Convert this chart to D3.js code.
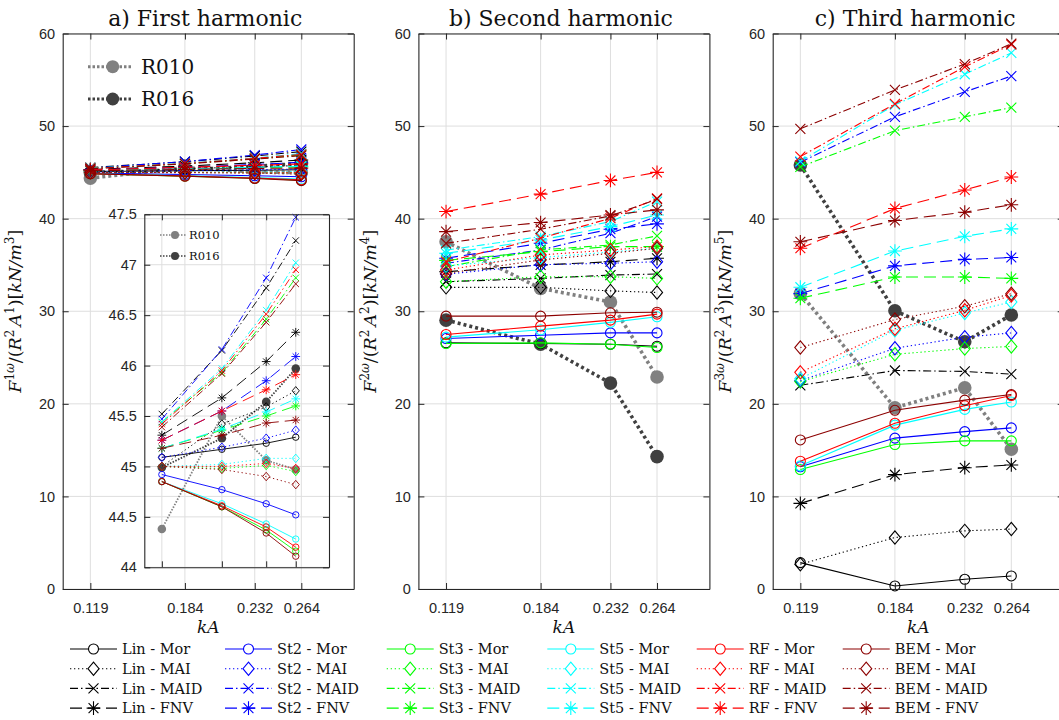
<!DOCTYPE html>
<html><head><meta charset="utf-8">
<script src="https://cdn.jsdelivr.net/npm/d3@7"></script>
<style>body{margin:0;background:#fff}svg{display:block}</style>
</head><body>
<svg id="c" width="1059" height="720"></svg>
<script>
// ---------- data ----------
const kA = [0.119, 0.184, 0.232, 0.264];
const kALabels = ["0.119", "0.184", "0.232", "0.264"];
const methods = ["Lin", "St2", "St3", "St5", "RF", "BEM"];
const models = ["Mor", "MAI", "MAID", "FNV"];
const methodColors = ["#000000", "#0000ff", "#00ff00", "#00ffff", "#ff0000", "#8c0000"];
const yTicksMain = [0, 10, 20, 30, 40, 50, 60];
const yTicksInset = [44, 44.5, 45, 45.5, 46, 46.5, 47, 47.5];
const refNames = ["R010", "R016"];
const refColors = ["#808080", "#404040"];
const titles = ["a) First harmonic", "b) Second harmonic", "c) Third harmonic"];

// First harmonic: rows = Mor, MAI, MAID, FNV
const h1Lin = [[45.09,45.17,45.23,45.29],[45.00,45.42,45.59,45.75],[45.52,46.15,46.77,47.24],[45.31,45.68,46.04,46.33]];
const h1St2 = [[44.92,44.77,44.63,44.52],[45.09,45.19,45.28,45.36],[45.47,46.16,46.87,47.47],[45.26,45.55,45.85,46.09]];
const h1St3 = [[44.85,44.60,44.37,44.16],[45.00,44.98,45.01,44.95],[45.44,45.93,46.46,46.87],[45.18,45.36,45.50,45.60]];
const h1St5 = [[44.85,44.63,44.43,44.28],[45.00,45.02,45.08,45.08],[45.44,45.97,46.55,47.02],[45.18,45.37,45.54,45.67]];
const h1RF  = [[44.85,44.61,44.40,44.20],[45.00,45.00,45.03,44.98],[45.42,45.95,46.51,46.95],[45.26,45.55,45.76,45.91]];
const h1BEM = [[44.85,44.60,44.34,44.11],[45.00,44.97,44.90,44.82],[45.39,45.92,46.43,46.81],[45.18,45.31,45.43,45.46]];
const h1R010 = [44.38, 45.50, 45.06, 44.97];
const h1R016 = [44.99, 45.28, 45.64, 45.97];

// Second harmonic
const h2Lin = [[26.58,26.51,26.44,26.22],[32.58,32.58,32.20,32.03],[33.19,33.55,33.91,34.02],[34.27,34.99,35.35,35.72]];
const h2St2 = [[27.05,27.41,27.66,27.66],[34.00,35.03,35.18,35.35],[35.18,36.62,38.43,40.23],[35.72,37.34,38.86,39.44]];
const h2St3 = [[26.51,26.58,26.44,26.08],[33.19,33.73,33.73,33.55],[34.81,36.62,37.16,38.14],[35.50,36.44,36.98,36.98]];
const h2St5 = [[27.20,28.00,28.80,29.40],[34.90,35.80,36.40,36.80],[36.60,38.06,39.69,41.85],[36.26,37.70,39.14,40.40]];
const h2RF  = [[27.49,28.39,29.04,29.69],[34.45,36.08,36.62,36.98],[35.35,37.89,40.05,42.20],[40.77,42.65,44.13,45.00]];
const h2BEM = [[29.47,29.47,29.83,29.90],[34.09,35.54,36.26,36.80],[37.34,38.86,40.30,42.10],[38.60,39.58,40.40,40.95]];
const h2R010 = [37.50, 32.47, 31.00, 22.90];
const h2R016 = [29.04, 26.44, 22.24, 14.30];

// Third harmonic
const h3Lin = [[2.85,0.33,1.05,1.41],[2.67,5.56,6.28,6.47],[22.00,23.60,23.50,23.20],[9.25,12.35,13.10,13.40]];
const h3St2 = [[13.20,16.30,17.00,17.40],[22.50,26.00,27.20,27.66],[46.10,51.00,53.70,55.40],[31.90,34.90,35.60,35.80]];
const h3St3 = [[12.90,15.60,16.00,16.00],[22.40,25.35,25.97,26.20],[45.60,49.50,51.00,52.00],[31.40,33.70,33.70,33.55]];
const h3St5 = [[13.30,17.70,19.40,20.20],[22.70,27.95,29.80,31.00],[46.20,52.30,55.60,57.90],[32.60,36.50,38.10,38.90]];
const h3RF  = [[13.80,17.90,19.80,20.90],[23.40,28.10,30.10,31.70],[46.70,52.40,56.40,58.80],[36.80,41.10,43.10,44.50]];
const h3BEM = [[16.10,19.30,20.40,21.00],[26.08,29.10,30.55,31.90],[49.70,53.90,56.70,58.90],[37.50,39.80,40.70,41.50]];
const h3R010 = [31.90, 19.58, 21.74, 15.10];
const h3R016 = [45.80, 30.05, 26.70, 29.60];

// ---------- assembly ----------
const harmonics = [
  {series: [h1Lin,h1St2,h1St3,h1St5,h1RF,h1BEM], refs: [h1R010,h1R016], sup: "1", p: "1", m: "3"},
  {series: [h2Lin,h2St2,h2St3,h2St5,h2RF,h2BEM], refs: [h2R010,h2R016], sup: "2", p: "2", m: "4"},
  {series: [h3Lin,h3St2,h3St3,h3St5,h3RF,h3BEM], refs: [h3R010,h3R016], sup: "3", p: "3", m: "5"}
];

const svg = d3.select("#c");
const W = 291, TOP = 33.5, BOT = 589;
const lefts = [62.7, 418.4, 772.7];
const modelDash = [null, "1.3,2.7", "8,3,1.5,3", "12,6"];
const modelMarker = ["circle", "diamond", "x", "asterisk"];
const AX = "#262626", GRID = "#dedede";
const SANS = "'Liberation Sans', Arial, sans-serif";
const SERIF = "'DejaVu Serif', serif";

function markerPath(type, s) {
  if (type === "circle") return `M${-s},0A${s},${s} 0 1,0 ${s},0A${s},${s} 0 1,0 ${-s},0Z`;
  if (type === "diamond") { const h = s * 1.25, w = s * 1.05; return `M0,${-h}L${w},0L0,${h}L${-w},0Z`; }
  if (type === "x") return `M${-s},${-s}L${s},${s}M${-s},${s}L${s},${-s}`;
  const a = s * 1.15, b = s * 0.82;
  return `M0,${-a}L0,${a}M${-a},0L${a},0M${-b},${-b}L${b},${b}M${-b},${b}L${b},${-b}`;
}

function drawData(g, x, y, h, o) {
  const line = d3.line().x((d, i) => x(kA[i])).y(d => y(d));
  // reference experiments first
  h.refs.forEach((vals, r) => {
    g.append("path").attr("d", line(vals)).attr("fill", "none")
      .attr("stroke", refColors[r]).attr("stroke-width", o.refW).attr("stroke-dasharray", o.refDash);
    g.selectAll(null).data(vals).enter().append("circle")
      .attr("cx", (d, i) => x(kA[i])).attr("cy", d => y(d)).attr("r", o.refR).attr("fill", refColors[r]);
  });
  h.series.forEach((rows, mi) => {
    rows.forEach((vals, k) => {
      g.append("path").attr("d", line(vals)).attr("fill", "none")
        .attr("stroke", methodColors[mi]).attr("stroke-width", o.lw)
        .attr("stroke-dasharray", modelDash[k]);
      g.selectAll(null).data(vals).enter().append("path")
        .attr("transform", (d, i) => `translate(${x(kA[i])},${y(d)})`)
        .attr("d", markerPath(modelMarker[k], o.ms[k]))
        .attr("fill", "none").attr("stroke", methodColors[mi]).attr("stroke-width", o.lw);
    });
  });
}

function drawAxes(g, x, y, x0, x1, y0, y1, yticks, fmtY, showX) {
  const ax = [];
  ax.push(g.append("g").attr("transform", `translate(0,${y0})`)
    .call(d3.axisBottom(x).tickValues(kA).tickFormat(showX ? ((d, i) => kALabels[i]) : "")
      .tickSizeInner(-6).tickSizeOuter(0).tickPadding(14)));
  ax.push(g.append("g").attr("transform", `translate(0,${y1})`)
    .call(d3.axisTop(x).tickValues(kA).tickFormat("").tickSizeInner(-6).tickSizeOuter(0)));
  ax.push(g.append("g").attr("transform", `translate(${x0},0)`)
    .call(d3.axisLeft(y).tickValues(yticks).tickFormat(fmtY).tickSizeInner(-6).tickSizeOuter(0).tickPadding(7.5)));
  ax.push(g.append("g").attr("transform", `translate(${x1},0)`)
    .call(d3.axisRight(y).tickValues(yticks).tickFormat("").tickSizeInner(-6).tickSizeOuter(0)));
  ax.forEach(a => {
    a.select(".domain").attr("stroke", AX).attr("stroke-width", 1.1);
    a.selectAll(".tick line").attr("stroke", AX).attr("stroke-width", 1);
    a.selectAll(".tick text").attr("fill", AX).style("font-family", SANS).style("font-size", "14.5px");
  });
}

function drawGrid(g, x, y, x0, x1, y0, y1, yticks) {
  g.append("g").selectAll("line").data(kA).enter().append("line")
    .attr("x1", d => x(d)).attr("x2", d => x(d)).attr("y1", y0).attr("y2", y1)
    .attr("stroke", GRID).attr("stroke-width", 1);
  g.append("g").selectAll("line").data(yticks).enter().append("line")
    .attr("x1", x0).attr("x2", x1).attr("y1", d => y(d)).attr("y2", d => y(d))
    .attr("stroke", GRID).attr("stroke-width", 1);
}

function ylabel(g, cx, cy, h) {
  const parts = [
    {t: "F", it: 1}, {t: h.sup, s: 1}, {t: "ω", s: 1, it: 1}, {t: "/("}, {t: "R", it: 1}, {t: "2", s: 1},
    {t: "A", it: 1, sp: 1}, {t: h.p, s: 1}, {t: ")["}, {t: "kN/m", it: 1}, {t: h.m, s: 1}, {t: "]"}
  ];
  const fs = 17.5;
  const t = g.append("text").attr("transform", `translate(${cx},${cy}) rotate(-90)`)
    .attr("text-anchor", "middle").style("font-family", SERIF).style("font-size", fs + "px").attr("fill", "#111");
  let cur = 0;
  parts.forEach(p => {
    const sh = p.s ? -7 : 0;
    const ts = t.append("tspan").text(p.t).attr("dy", sh - cur)
      .style("font-style", p.it ? "italic" : "normal").style("font-size", (p.s ? 12 : fs) + "px");
    if (p.sp) ts.attr("dx", 3);
    cur = sh;
  });
}

harmonics.forEach((h, p) => {
  const L = lefts[p], R = L + W;
  const g = svg.append("g");
  const x = d3.scaleLinear().domain([0.1, 0.3]).range([L, R]);
  const y = d3.scaleLinear().domain([0, 60]).range([BOT, TOP]);
  drawGrid(g, x, y, L, R, BOT, TOP, yTicksMain);
  drawData(g, x, y, h, {lw: 1.1, ms: [5, 5.3, 5, 6], refR: 6.8, refW: 3.6, refDash: "3,3"});
  drawAxes(g, x, y, L, R, BOT, TOP, yTicksMain, d => d, true);
  g.append("text").attr("x", L + W / 2 - 3).attr("y", 26).attr("text-anchor", "middle")
    .style("font-family", SERIF).style("font-size", "22px").attr("fill", "#111").text(titles[p]);
  g.append("text").attr("x", L + W / 2).attr("y", 633).attr("text-anchor", "middle")
    .style("font-family", SERIF).style("font-style", "italic").style("font-size", "17px").attr("fill", "#111").text("kA");
  ylabel(g, L - 42, (TOP + BOT) / 2, h);

  if (p === 0) {
    // main legend
    refNames.forEach((n, r) => {
      const ly = 66.7 + r * 32.3;
      g.append("line").attr("x1", 88).attr("x2", 133).attr("y1", ly).attr("y2", ly)
        .attr("stroke", refColors[r]).attr("stroke-width", 3).attr("stroke-dasharray", "2.5,2");
      g.append("circle").attr("cx", 112.7).attr("cy", ly).attr("r", 6.5).attr("fill", refColors[r]);
      g.append("text").attr("x", 141).attr("y", ly).attr("dy", "0.36em")
        .style("font-family", SERIF).style("font-size", "20px").attr("fill", "#111").text(n);
    });
    // inset
    const IL = 144.3, IR = 329, IT = 214.3, IB = 567.3;
    const gi = svg.append("g");
    const xi = d3.scaleLinear().domain([0.1, 0.3]).range([IL, IR]);
    const yi = d3.scaleLinear().domain([44, 47.5]).range([IB, IT]);
    drawGrid(gi, xi, yi, IL, IR, IB, IT, yTicksInset);
    drawData(gi, xi, yi, h, {lw: 0.9, ms: [3.2, 3.4, 3.2, 3.8], refR: 4.3, refW: 1.8, refDash: "1.5,1.5"});
    drawAxes(gi, xi, yi, IL, IR, IB, IT, yTicksInset, d => d, false);
    refNames.forEach((n, r) => {
      const ly = 235 + r * 21;
      gi.append("line").attr("x1", 160).attr("x2", 186).attr("y1", ly).attr("y2", ly)
        .attr("stroke", refColors[r]).attr("stroke-width", 1.6).attr("stroke-dasharray", "1.5,1.5");
      gi.append("circle").attr("cx", 175).attr("cy", ly).attr("r", 4).attr("fill", refColors[r]);
      gi.append("text").attr("x", 189).attr("y", ly).attr("dy", "0.36em")
        .style("font-family", SERIF).style("font-size", "11.5px").attr("fill", "#111").text(n);
    });
  }
});

// bottom legend
const legX = [70, 225, 386.7, 547.3, 696.7, 842.7];
const legY0 = 649, legDY = 19.7;
const gl = svg.append("g");
methods.forEach((m, mi) => {
  models.forEach((md, k) => {
    const lx = legX[mi], ly = legY0 + k * legDY;
    gl.append("line").attr("x1", lx).attr("x2", lx + 47).attr("y1", ly).attr("y2", ly)
      .attr("stroke", methodColors[mi]).attr("stroke-width", 1.1).attr("stroke-dasharray", modelDash[k]);
    gl.append("path").attr("transform", `translate(${lx + 23.5},${ly})`)
      .attr("d", markerPath(modelMarker[k], [5, 5.3, 5, 6][k]))
      .attr("fill", "#fff").attr("stroke", methodColors[mi]).attr("stroke-width", 1.1);
    gl.append("text").attr("x", lx + 52).attr("y", ly).attr("dy", "0.36em")
      .style("font-family", SERIF).style("font-size", "14.5px").attr("fill", "#111")
      .text(`${m} - ${md}`);
  });
});
</script>
</body></html>
